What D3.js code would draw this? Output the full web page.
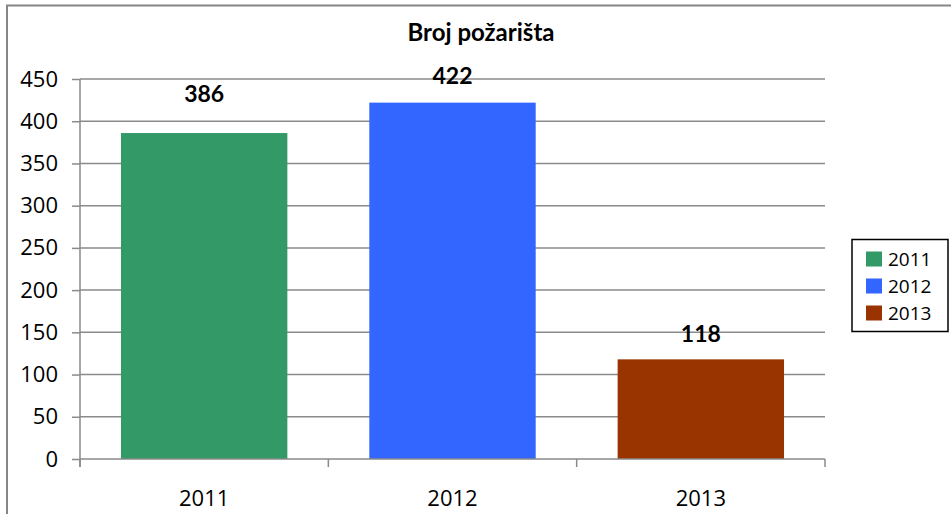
<!DOCTYPE html>
<html>
<head>
<meta charset="utf-8">
<script src="https://cdn.jsdelivr.net/npm/d3@7"></script>
<style>
    body { margin: 0; background: #fff; }
    svg { display: block; }
</style>
</head>
<body>
<div id="chart"></div>
<script>
// Chart data
const TITLE = "Broj požarišta";
const YEARS = ["2011", "2012", "2013"];
const FIRES = [386, 422, 118];
const Y_TICKS = [0, 50, 100, 150, 200, 250, 300, 350, 400, 450];
const COLORS = ["#339966", "#3366FF", "#993300"];

// how far each value label sits above its bar (as in the original)
const LABEL_LIFT = [31, 19, 17];

const W = 951, H = 514;
const margin = {top: 79, right: 126, bottom: 55, left: 80};
const width = W - margin.left - margin.right;
const height = H - margin.top - margin.bottom;

const TICK_FONT = "'Open Sans', sans-serif";
const BOLD_FONT = "Lato, 'Open Sans', sans-serif";

const root = d3.select("#chart")
    .append("svg")
    .attr("width", W)
    .attr("height", H);

// Outer chart border (runs off the right and bottom edges)
root.append("rect")
    .attr("x", 7)
    .attr("y", 5.5)
    .attr("width", W + 20)
    .attr("height", H + 20)
    .attr("fill", "none")
    .attr("stroke", "#868686")
    .attr("stroke-width", 2);

// Title
root.append("text")
    .attr("x", 481)
    .attr("y", 41)
    .attr("text-anchor", "middle")
    .style("font-family", BOLD_FONT)
    .style("font-weight", "bold")
    .style("font-size", "24px")
    .text(TITLE);

let svg = root.append("g")
    .attr("transform", "translate(" + margin.left + "," + margin.top + ")");

// Scales
let x = d3.scaleBand()
    .domain(YEARS)
    .range([0, width])
    .paddingInner(0.33)
    .paddingOuter(0.165);

let y = d3.scaleLinear()
    .domain([0, 450])
    .range([height, 0]);

// Gridlines
svg.append("g")
    .selectAll("line")
    .data(Y_TICKS.filter(d => d > 0))
    .join("line")
    .attr("x1", 0)
    .attr("x2", width)
    .attr("y1", d => y(d))
    .attr("y2", d => y(d))
    .attr("stroke", "#8a8a8a")
    .attr("stroke-width", 1.5);

// Y axis
let yAxis = svg.append("g")
    .call(d3.axisLeft(y).tickValues(Y_TICKS).tickSize(8).tickPadding(14).tickSizeOuter(0));
yAxis.select(".domain").attr("stroke", "#8a8a8a").attr("stroke-width", 1.5)
    .attr("d", "M0,0V" + (height + 8));
yAxis.selectAll(".tick line").attr("stroke", "#8a8a8a").attr("stroke-width", 1.5);
yAxis.selectAll(".tick text")
    .style("font-family", TICK_FONT)
    .style("font-size", "22px")
    .attr("fill", "#000");

// Bars
svg.append("g")
    .selectAll("rect")
    .data(FIRES)
    .join("rect")
    .attr("x", (d, i) => x(YEARS[i]))
    .attr("y", d => y(d))
    .attr("width", x.bandwidth())
    .attr("height", d => height - y(d))
    .attr("fill", (d, i) => COLORS[i]);

// X axis (ticks at the band boundaries)
let xAxis = svg.append("g")
    .attr("transform", "translate(0," + height + ")");
xAxis.append("line")
    .attr("x1", 0)
    .attr("x2", width)
    .attr("stroke", "#8a8a8a")
    .attr("stroke-width", 1.5);
let bounds = YEARS.map(d => x(d) - x.step() * x.paddingInner() / 2).concat([width]);
bounds[0] = 0;
xAxis.selectAll(".xtick")
    .data(bounds)
    .join("line")
    .attr("class", "xtick")
    .attr("x1", d => d)
    .attr("x2", d => d)
    .attr("y1", 0)
    .attr("y2", 8)
    .attr("stroke", "#8a8a8a")
    .attr("stroke-width", 1.5);
xAxis.selectAll(".xlabel")
    .data(YEARS)
    .join("text")
    .attr("class", "xlabel")
    .attr("x", d => x(d) + x.bandwidth() / 2)
    .attr("y", 47)
    .attr("text-anchor", "middle")
    .style("font-family", TICK_FONT)
    .style("font-size", "22px")
    .text(d => d);

// Value labels
svg.append("g")
    .selectAll("text")
    .data(FIRES)
    .join("text")
    .attr("x", (d, i) => x(YEARS[i]) + x.bandwidth() / 2)
    .attr("y", (d, i) => y(d) - LABEL_LIFT[i])
    .attr("text-anchor", "middle")
    .style("font-family", BOLD_FONT)
    .style("font-weight", "bold")
    .style("font-size", "23px")
    .text(d => d);

// Legend
let legend = root.append("g")
    .attr("transform", "translate(852,239.5)");
legend.append("rect")
    .attr("width", 96)
    .attr("height", 92)
    .attr("fill", "#fff")
    .attr("stroke", "#000")
    .attr("stroke-width", 1.5);
let item = legend.selectAll(".item")
    .data(YEARS)
    .join("g")
    .attr("class", "item")
    .attr("transform", (d, i) => "translate(14," + (12 + i * 27) + ")");
item.append("rect")
    .attr("width", 16)
    .attr("height", 15)
    .attr("fill", (d, i) => COLORS[i]);
item.append("text")
    .attr("x", 22)
    .attr("y", 14.5)
    .style("font-family", TICK_FONT)
    .style("font-size", "19px")
    .text(d => d);
</script>
</body>
</html>
